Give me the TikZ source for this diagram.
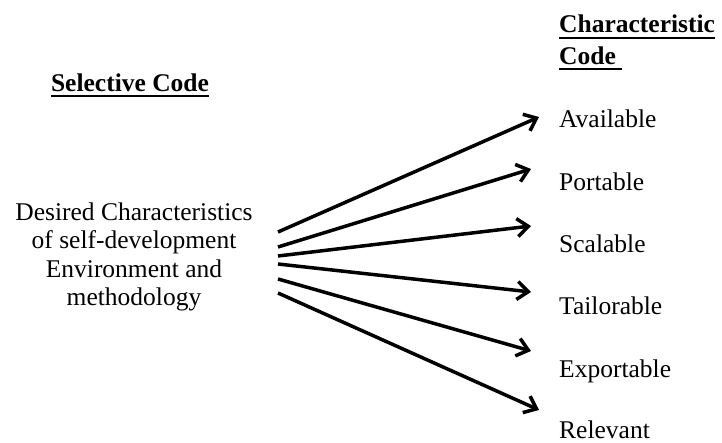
\documentclass[tikz,border=0pt]{standalone}
\usepackage{fontspec}
\setmainfont{Liberation Serif}
\usetikzlibrary{arrows.meta}

\tikzset{
  lbl/.style={inner sep=0pt, anchor=base west, font=\fontsize{25.5}{28.5}\selectfont},
  head/.style={inner sep=0pt, anchor=base west, font=\fontsize{25.5}{28.5}\selectfont\bfseries},
  uline/.style={line width=1.8pt},
  link/.style={line width=3.5pt, -{Straight Barb[length=11pt,width=18pt,line width=3.5pt]}}
}

\begin{document}
\begin{tikzpicture}[x=1pt,y=-1pt]
  \useasboundingbox (0,0) rectangle (722,443);

  % column headings
  \node[head, anchor=base] (sel) at (130,92) {Selective Code};
  \draw[uline] ([yshift=-4pt]sel.base west) -- ([yshift=-4pt]sel.base east);

  \node[head] (ch1) at (559,33) {Characteristic};
  \draw[uline] ([yshift=-5pt]ch1.base west) -- ([yshift=-5pt]ch1.base east);
  \node[head] (ch2) at (559,65) {Code};
  \draw[uline] ([yshift=-4pt]ch2.base west) -- ([yshift=-4pt,xshift=6pt]ch2.base east);

  % selective code
  \node[inner sep=0pt, align=center, font=\fontsize{25.5}{28.5}\selectfont]
    (src) at (134,257) {Desired Characteristics\\of self-development\\Environment and\\methodology};

  % characteristic codes
  \node[lbl] (c1) at (559,128)   {Available};
  \node[lbl] (c2) at (559,190.5) {Portable};
  \node[lbl] (c3) at (559,253)   {Scalable};
  \node[lbl] (c4) at (559,315)   {Tailorable};
  \node[lbl] (c5) at (559,377.5) {Exportable};
  \node[lbl] (c6) at (559,438)   {Relevant};

  % arrow start points beside the source text
  \coordinate (s1) at (278,232);
  \coordinate (s2) at (278,247);
  \coordinate (s3) at (278,256);
  \coordinate (s4) at (278,264);
  \coordinate (s5) at (278,279);
  \coordinate (s6) at (278,293);

  % arrow tips in front of each code
  \coordinate (e1) at (539,117);
  \coordinate (e2) at (531,169);
  \coordinate (e3) at (531,226);
  \coordinate (e4) at (531,292);
  \coordinate (e5) at (531,351);
  \coordinate (e6) at (539,410);

  \foreach \i in {1,...,6} \draw[link] (s\i) -- (e\i);
\end{tikzpicture}
\end{document}
